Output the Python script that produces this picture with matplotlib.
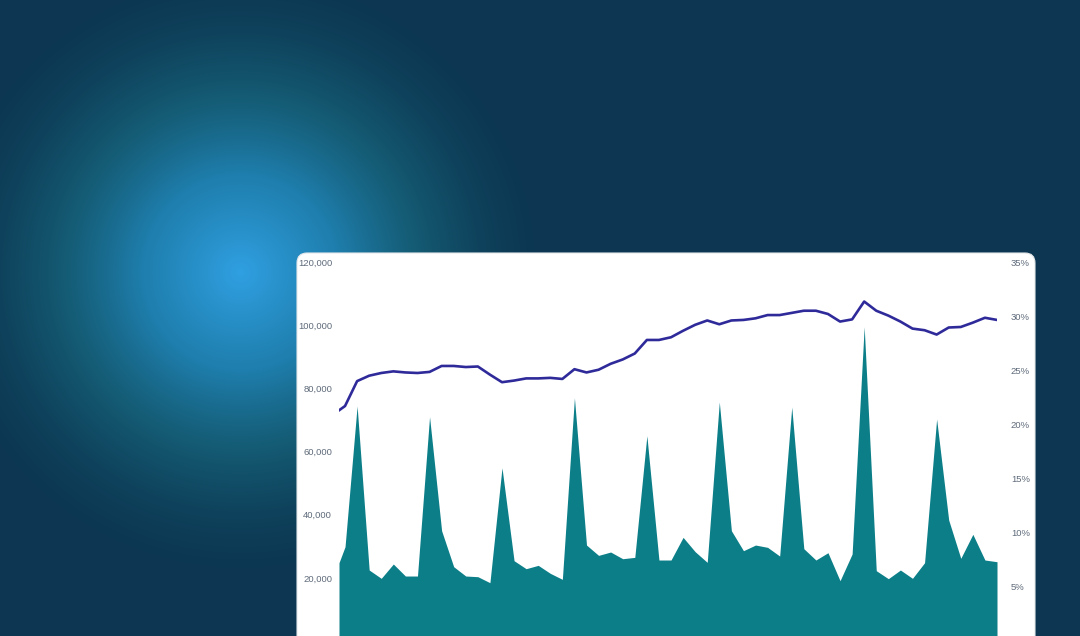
import numpy as np
import matplotlib
matplotlib.use("Agg")
import matplotlib.pyplot as plt
from matplotlib.colors import LinearSegmentedColormap
from matplotlib.patches import FancyBboxPatch
from matplotlib.ticker import FuncFormatter

# weekly positions (first point is a half period)
weeks = np.r_[-0.5, np.arange(55)]

# teal area, left axis
volume = [24780, 29850, 74380, 22470, 19840, 24370, 20570, 20570, 71000, 34910,
          23520, 20570, 20360, 18460, 54850, 25420, 22890, 23950, 21420, 19520,
          77000, 30380, 27110, 28170, 26050, 26480, 64990, 25640, 25640, 32810,
          28270, 24900, 75640, 34910, 28590, 30380, 29650, 26900, 74060, 29220,
          25640, 27950, 19090, 27540, 99480, 22260, 19730, 22470, 19840, 24780,
          70260, 38300, 26170, 33770, 25640, 25100]

# purple line, right axis (%)
rate = [21.3, 21.7, 24.0, 24.5, 24.75, 24.9, 24.8, 24.75, 24.85, 25.4,
        25.4, 25.3, 25.35, 24.6, 23.9, 24.05, 24.25, 24.25, 24.3, 24.2,
        25.1, 24.8, 25.05, 25.6, 26.0, 26.55, 27.8, 27.8, 28.05, 28.65,
        29.2, 29.6, 29.25, 29.6, 29.65, 29.8, 30.1, 30.1, 30.3, 30.5,
        30.5, 30.2, 29.5, 29.7, 31.35, 30.5, 30.05, 29.5, 28.85, 28.7,
        28.3, 28.95, 29.0, 29.4, 29.85, 29.65]

left_ticks = [20000, 40000, 60000, 80000, 100000, 120000]
right_ticks = [5, 10, 15, 20, 25, 30, 35]

W, H = 1080, 636
fig = plt.figure(figsize=(W / 100, H / 100), dpi=100)

# background with radial glow
bg = fig.add_axes([0, 0, 1, 1])
yy, xx = np.mgrid[0:H, 0:W]
r = np.hypot(xx - 240, yy - 272)
glow = np.clip(1 - r / 310.0, 0, 1) ** 1.6
cmap = LinearSegmentedColormap.from_list(
    "glow", [(0.0, "#0c3651"), (0.25, "#145a72"), (0.55, "#1f7fae"),
             (1.0, "#30a0e2")])
bg.imshow(glow, cmap=cmap, extent=[0, W, H, 0], aspect="auto",
          interpolation="bilinear", vmin=0, vmax=1)
bg.set_xlim(0, W)
bg.set_ylim(H, 0)
bg.axis("off")

card = FancyBboxPatch((297, 253), 1035 - 297, 430,
                      boxstyle="round,pad=0,rounding_size=10",
                      facecolor="white", edgecolor="#e3e7ea", linewidth=0.8)
bg.add_patch(card)

# chart
ax = fig.add_axes([339 / W, (H - 641) / H, (997 - 339) / W, (641 - 262) / H])
ax.patch.set_visible(False)
ax.fill_between(weeks, volume, 0, color="#0b7e88", linewidth=0)
ax.set_xlim(-0.5, 54)
ax.set_ylim(0, 120000)
ax.set_yticks(left_ticks)
ax.yaxis.set_major_formatter(FuncFormatter(lambda v, p: f"{int(v):,}"))
ax.set_xticks([])

ax2 = ax.twinx()
ax2.plot(weeks, rate, color="#2f2a9a", linewidth=1.9, solid_joinstyle="round")
ax2.set_ylim(0, 35)
ax2.set_yticks(right_ticks)
ax2.yaxis.set_major_formatter(FuncFormatter(lambda v, p: f"{int(v)}%"))

for a in (ax, ax2):
    for s in a.spines.values():
        s.set_visible(False)
    a.tick_params(axis="y", length=0, labelsize=6.8, labelcolor="#5f6b7a")
    for t in a.get_yticklabels():
        t.set_fontfamily("Liberation Sans")
ax.tick_params(axis="y", pad=5)
ax2.tick_params(axis="y", pad=10)

fig.savefig("out.png", dpi=100)
